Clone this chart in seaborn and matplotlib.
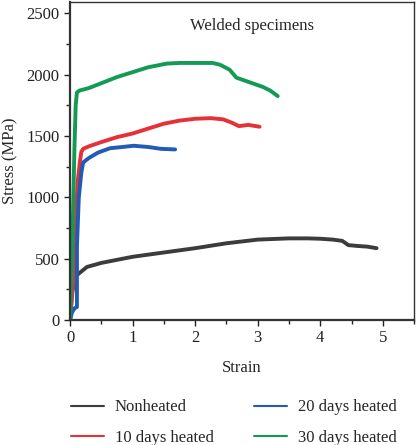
import numpy as np
import pandas as pd
import matplotlib
matplotlib.use("Agg")
import matplotlib.pyplot as plt
import seaborn as sns
from matplotlib.ticker import MultipleLocator

# strain / stress
non_x = [0.0, 0.03, 0.08, 0.11, 0.18, 0.27, 0.5, 0.72, 1.0, 1.5, 2.0, 2.5, 3.0, 3.5, 3.8, 4.0, 4.2, 4.35, 4.45, 4.6, 4.75, 4.9]
non_y = [0, 220, 330, 365, 395, 432, 465, 487, 515, 550, 585, 625, 655, 665, 665, 662, 655, 645, 610, 603, 598, 585]

d10_x = [0.0, 0.05, 0.09, 0.12, 0.16, 0.18, 0.21, 0.3, 0.5, 0.75, 1.0, 1.25, 1.5, 1.75, 2.0, 2.25, 2.45, 2.6, 2.7, 2.85, 3.03]
d10_y = [0, 300, 800, 1120, 1300, 1370, 1395, 1415, 1450, 1490, 1520, 1560, 1600, 1625, 1640, 1645, 1635, 1605, 1580, 1590, 1575]

d20_x = [0.0, 0.03, 0.07, 0.11, 0.11, 0.14, 0.18, 0.21, 0.3, 0.45, 0.64, 0.8, 1.02, 1.25, 1.45, 1.68]
d20_y = [0, 60, 95, 105, 600, 1000, 1200, 1284, 1320, 1365, 1400, 1408, 1420, 1410, 1395, 1390]

d30_x = [0.0, 0.04, 0.07, 0.09, 0.11, 0.15, 0.3, 0.5, 0.75, 1.0, 1.25, 1.55, 1.75, 2.0, 2.28, 2.4, 2.55, 2.66, 2.8, 3.08, 3.2, 3.32]
d30_y = [0, 700, 1400, 1750, 1855, 1870, 1890, 1930, 1980, 2020, 2060, 2090, 2095, 2095, 2095, 2080, 2040, 1975, 1950, 1900, 1870, 1825]

labels = ["Nonheated", "10 days heated", "20 days heated", "30 days heated"]
colors = ["#3c3c3c", "#e53238", "#1f5cb5", "#139a55"]

frames = []
for lab, xs, ys in zip(labels, [non_x, d10_x, d20_x, d30_x], [non_y, d10_y, d20_y, d30_y]):
    frames.append(pd.DataFrame({"Strain": xs, "Stress": ys, "Sample": lab}))
df = pd.concat(frames, ignore_index=True)

sns.set_style("ticks")
plt.rcParams["font.family"] = ["Liberation Serif", "DejaVu Serif"]

fig = plt.figure(figsize=(4.17, 4.45), dpi=100)
ax = fig.add_axes([0.168, 0.281, 0.825, 0.714])

for lab, col in zip(labels, colors):
    sub = df[df["Sample"] == lab]
    sns.lineplot(data=sub, x="Strain", y="Stress", ax=ax, color=col, lw=2.8,
                 sort=False, estimator=None, legend=False)

ax.set_xlim(0, 5.5)
ax.set_ylim(0, 2590)
ax.xaxis.set_major_locator(MultipleLocator(1))
ax.xaxis.set_minor_locator(MultipleLocator(0.5))
ax.yaxis.set_major_locator(MultipleLocator(500))
ax.yaxis.set_minor_locator(MultipleLocator(250))
ax.tick_params(which="major", direction="out", length=4, width=1, labelsize=12, colors="#222222")
ax.tick_params(which="minor", direction="out", length=3, width=1)
for s in ax.spines.values():
    s.set_linewidth(1)
    s.set_color("#333333")
ax.spines["bottom"].set_linewidth(1.6)
ax.spines["left"].set_linewidth(1.6)

ax.set_xlabel("Strain", fontsize=12, labelpad=10)
ax.set_ylabel("Stress (MPa)", fontsize=12, labelpad=6)
ax.text(0.53, 0.925, "Welded specimens", transform=ax.transAxes, ha="center", va="center", fontsize=12)

handles = [plt.Line2D([], [], color=c, lw=1.5) for c in colors]
fig.legend(handles, labels, ncol=2, loc="lower center", bbox_to_anchor=(0.56, -0.035),
           frameon=False, fontsize=12, handlelength=2.0, handletextpad=0.65,
           columnspacing=2.4, labelspacing=0.85)

fig.savefig("out.png", dpi=100)
